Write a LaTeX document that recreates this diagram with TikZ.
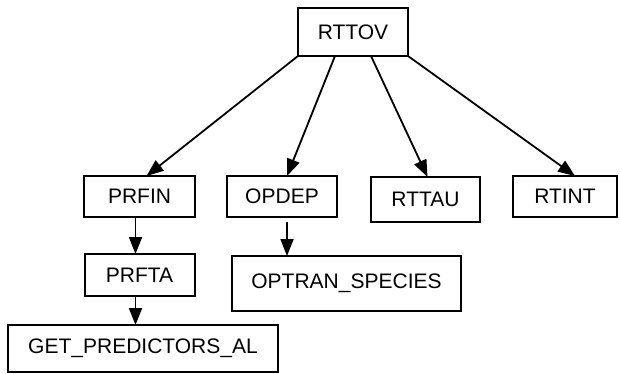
\documentclass[tikz,border=0pt]{standalone}
\usepackage{fontspec}
\setmainfont{Liberation Sans}
\usetikzlibrary{positioning, arrows.meta}

\begin{document}
\begin{tikzpicture}[
    x=1pt, y=-1pt,
    routine/.style={draw, line width=2pt, inner sep=0pt, outer sep=0pt,
      font=\fontsize{21}{25}\selectfont},
    call/.style={line width=1.8pt, -{Triangle[length=17pt, width=13pt]}}]

  \useasboundingbox (0, 0) rectangle (620, 374);

  % main routine
  \node[routine, minimum width=110pt, minimum height=48pt] at (353, 32) (rttov) {RTTOV};

  % first level
  \node[routine, minimum width=111pt, minimum height=41pt] at (139.5, 196.5) (prfin) {PRFIN};
  \node[routine, minimum width=110pt, minimum height=41pt] at (282, 196.5) (opdep) {OPDEP};
  \node[routine, minimum width=109pt, minimum height=45pt] at (425.5, 199.5) (rttau) {RTTAU};
  \node[routine, minimum width=104pt, minimum height=41pt] at (565, 196.5) (rtint) {RTINT};

  % second level
  \node[routine, minimum width=110pt, minimum height=42pt, below=37pt of prfin] (prfta) {PRFTA};
  \node[routine, minimum width=229pt, minimum height=55pt] at (346.5, 283.5) (optran) {OPTRAN\_SPECIES};

  % third level
  \node[routine, minimum width=270pt, minimum height=47pt] at (143, 348.5) (getpred) {GET\_PREDICTORS\_AL};

  % calls
  \draw[call] (rttov.south west) -- ([xshift=7pt]prfin.north);
  \draw[call] ([xshift=37pt]rttov.south west) -- ([xshift=5pt]opdep.north);
  \draw[call] ([xshift=-37pt]rttov.south east) -- ([xshift=2pt]rttau.north);
  \draw[call] (rttov.south east) -- ([xshift=10pt]rtint.north);

  \draw[call] ([xshift=-4pt]prfin.south) -- ([xshift=-4pt]prfta.north);
  \coordinate (opdep-out) at ([xshift=5pt, yshift=-5pt]opdep.south);
  \draw[call] (opdep-out) -- (opdep-out |- optran.north);
  \draw[call] ([xshift=-4pt]prfta.south) -- ([xshift=-7.5pt]getpred.north);
\end{tikzpicture}
\end{document}
